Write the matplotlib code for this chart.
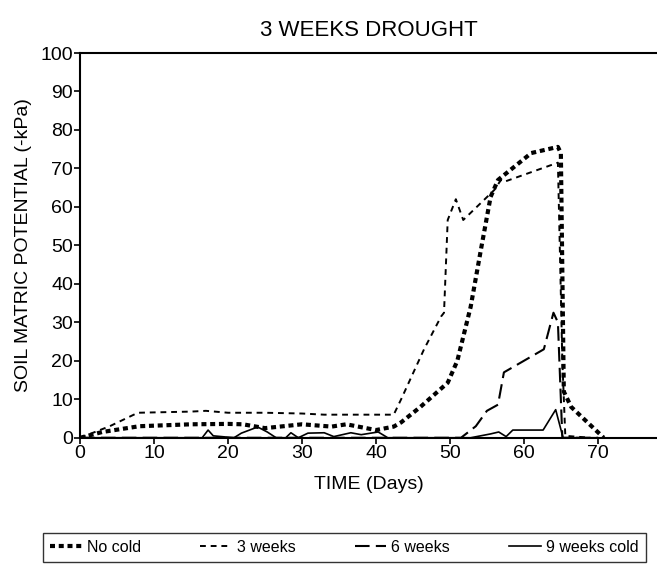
import numpy as np
import matplotlib
matplotlib.use("Agg")
import matplotlib.pyplot as plt

plt.rcParams['font.family'] = ['Liberation Sans', 'DejaVu Sans']

# datos (dias, -kPa)
dias_nocold = [0, 3, 8, 15, 20, 22, 25, 30, 34, 36, 40, 42.4, 43.4, 46, 49.7, 51, 52.8, 54.2, 55.5, 56.5, 61, 64.6, 65, 65.4, 66.4, 70.8]
nocold = [0, 1.5, 3, 3.5, 3.6, 3.5, 2.5, 3.5, 2.9, 3.5, 2, 2.9, 4, 8, 14.3, 20, 34, 49, 62.6, 67, 74, 75.6, 74, 12, 8, 0]

dias_3sem = [0, 4, 7.8, 15, 17, 20, 25, 30, 33, 42.4, 43.4, 46.5, 48.8, 49.2, 49.7, 50.8, 51.8, 56, 56.9, 57.3, 64.6, 65.2, 65.6, 69]
tres_sem = [0, 3, 6.5, 6.8, 7, 6.5, 6.5, 6.3, 6, 6, 10, 23, 31.5, 32.5, 56.6, 62, 56.6, 64.4, 67, 66.5, 71.5, 20, 0.5, 0]

dias_6sem = [0, 51.5, 53.5, 55, 56.5, 57.3, 62.7, 64, 64.6, 65.2, 70]
seis_sem = [0, 0, 3, 7, 8.6, 17, 23, 32.5, 30, 0, 0]

dias_9sem = [0, 16.5, 17.3, 18, 20.8, 21.8, 24, 25.3, 26.5, 27.8, 28.5, 29.5, 30.8, 33, 34.3, 36.6, 38, 40.3, 41.6,
             51.5, 52.8, 55.5, 56.6, 57.6, 58.5, 62.6, 64.3, 65.3, 70]
nueve_sem = [0, 0, 2, 0.5, 0, 1.2, 2.8, 1.5, 0, 0, 1.3, 0, 1.2, 1.3, 0.3, 1.3, 0.8, 1.5, 0,
             0, 0, 1, 1.5, 0.3, 2, 2, 7.3, 0, 0]

xticks = [0, 10, 20, 30, 40, 50, 60, 70]
yticks = [0, 10, 20, 30, 40, 50, 60, 70, 80, 90, 100]

fig = plt.figure(figsize=(6.57, 5.70), dpi=100)
ax = fig.add_axes([0.122, 0.232, 0.878, 0.675])

ax.plot(dias_nocold, nocold, color='black', linewidth=3.0, dashes=(1.2, 0.9), label='No cold')
ax.plot(dias_3sem, tres_sem, color='black', linewidth=1.4, dashes=(3, 2.5), label='3 weeks')
ax.plot(dias_6sem, seis_sem, color='black', linewidth=1.5, dashes=(7, 3), label='6 weeks')
ax.plot(dias_9sem, nueve_sem, color='black', linewidth=1.2, label='9 weeks cold')

ax.set_xlim(0, 78)
ax.set_ylim(0, 100)
ax.set_xticks(xticks)
ax.set_yticks(yticks)
ax.tick_params(labelsize=14, direction='out', length=4, width=1.2, pad=1)
ax.spines['right'].set_visible(False)
for s in ['left', 'bottom', 'top']:
    ax.spines[s].set_linewidth(1.5)

ax.set_xlabel('TIME (Days)', fontsize=14, labelpad=10)
ax.set_ylabel('SOIL MATRIC POTENTIAL (-kPa)', fontsize=14, labelpad=6)
ax.set_title('3 WEEKS DROUGHT', fontsize=16, pad=12)

fig.legend(loc='lower left', bbox_to_anchor=(0.053, 0.0), ncol=4, fontsize=11.5,
           frameon=True, fancybox=False, edgecolor='black', handlelength=2.0,
           columnspacing=3.7, handletextpad=0.3, borderpad=0.45)

fig.savefig('out.png', dpi=100)
